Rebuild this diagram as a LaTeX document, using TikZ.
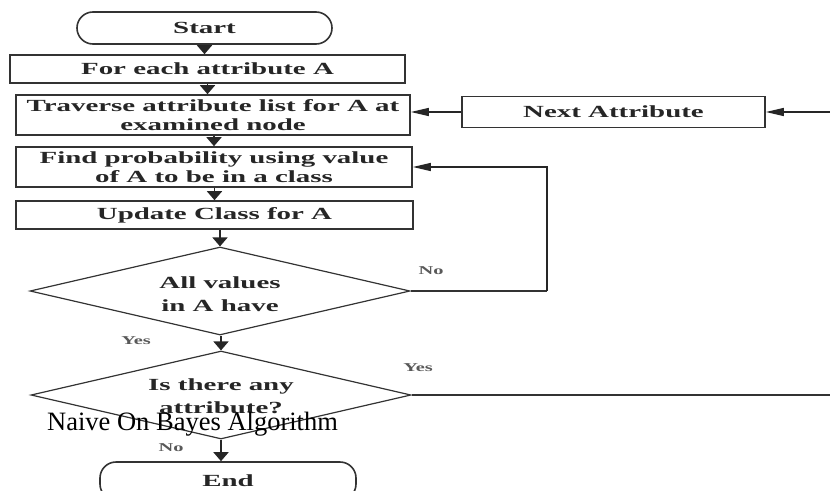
\documentclass[tikz,border=0pt]{standalone}
\usepackage{fontspec}
\setmainfont{Liberation Serif}
\newfontfamily\flowfont{Liberation Serif}[FakeStretch=1.7]
\usetikzlibrary{arrows.meta,shapes.geometric}
\begin{document}
\begin{tikzpicture}[x=1pt,y=-1pt,
  flowtext/.style={font=\flowfont\bfseries\fontsize{17}{19}\selectfont, text=black!85},
  stepbox/.style={flowtext, draw=black!80, line width=1.6pt, inner sep=0pt, align=center},
  term/.style={stepbox, rounded corners=16pt},
  decision/.style={diamond, aspect=4.32, draw=black!80, line width=1.2pt, inner sep=0pt,
    minimum width=380pt, minimum height=88pt},
  dtext/.style={flowtext, font=\flowfont\bfseries\fontsize{17}{23}\selectfont, align=center, inner sep=0pt},
  vflow/.style={-{Triangle[length=9pt,width=15pt]}, line width=1.8pt, black!85},
  hflow/.style={-{Triangle[length=18pt,width=8pt]}, line width=1.4pt, black!85},
  plain/.style={line width=1.4pt, black!80},
  lbl/.style={font=\flowfont\bfseries\fontsize{12}{14}\selectfont, text=black!65, inner sep=0pt}]
\useasboundingbox (0,0) rectangle (830,490);
\clip (0,0) rectangle (830,490);

% main column
\node[term, minimum width=255pt, minimum height=32pt] (start) at (204.5,28) {Start};
\node[stepbox, minimum width=395pt, minimum height=28pt] (foreach) at (207.5,69) {For each attribute A};
\node[stepbox, minimum width=394pt, minimum height=40pt] (trav) at (213,115)
  {Traverse attribute list for A at\\examined node};
\node[stepbox, minimum width=396pt, minimum height=40pt] (find) at (214,167)
  {Find probability using value\\of A to be in a class};
\node[stepbox, minimum width=397pt, minimum height=28pt] (update) at (214.5,215) {Update Class for A};
\node[decision, label={[dtext, yshift=-3.5pt]center:All values\\in A have}] (d1) at (220,291) {};
\node[decision, label={[dtext, yshift=-1.5pt]center:Is there any\\attribute?}] (d2) at (221,395) {};
\node[term, minimum width=256pt, minimum height=38pt] (end) at (228,481) {End};

% side box
\node[stepbox, minimum width=303pt, minimum height=31pt] (next) at (613.5,112) {Next Attribute};

% downward flow
\draw[vflow] (start.south) -- (start.south |- foreach.north);
\draw[vflow] (foreach.south) -- (foreach.south |- trav.north);
\draw[vflow] (find.north |- trav.south) -- (find.north);
\draw[vflow] (update.north |- find.south) -- (update.north);
\draw[vflow] (d1.north |- update.south) -- (d1.north);
\draw[vflow] (d2.north |- d1.south) -- (d2.north);
\draw[vflow] (d2.south) -- (d2.south |- end.north);

% "No" loop back to the probability step
\coordinate (noturn) at (547,291);
\draw[plain] (d1.east) -- (noturn);
\draw[hflow] (noturn) |- (find.east);

% "Yes" branch and the next-attribute loop
\coordinate (yesout) at (830,395);
\draw[plain] (d2.east) -- (yesout);
\coordinate (nextin) at (830,112);
\draw[hflow] (nextin) -- (next.east);
\draw[hflow] (next.west) -- (next.west -| trav.east);

% branch labels
\node[lbl] (noA) at (431,271) {No};
\node[lbl] (yesA) at (136,341) {Yes};
\node[lbl] (yesB) at (418,368) {Yes};
\node[lbl] (noB) at (171,448) {No};

% caption
\node[anchor=base west, inner sep=0pt, font=\fontsize{26.5}{30}\selectfont] (caption) at (47,430)
  {Naive On Bayes Algorithm};
\end{tikzpicture}
\end{document}
